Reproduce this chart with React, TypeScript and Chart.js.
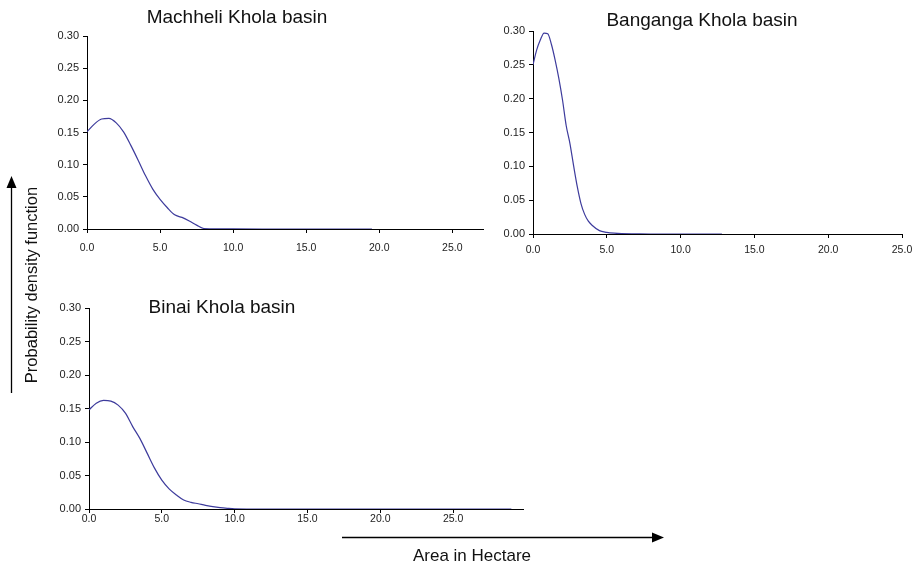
import React, { useEffect, useRef } from "react";
import { Chart, registerables } from "chart.js";

Chart.register(...registerables);

// ---------- Data ----------
const machheliX = [0, 0.5, 1.0, 1.5, 2.0, 2.5, 3.0, 3.5, 4.0, 4.5, 5.0, 5.5, 6.0, 6.5, 7.0, 7.5, 8.0, 9.0, 10.0, 12.0, 15.0, 19.5];
const machheliY = [0.151, 0.163, 0.171, 0.172, 0.165, 0.151, 0.130, 0.107, 0.083, 0.062, 0.046, 0.033, 0.022, 0.018, 0.0125, 0.006, 0.0008, 0.0004, 0.0002, 0, 0, 0];

const bangangaX = [0, 0.25, 0.5, 0.75, 1.0, 1.25, 1.5, 1.75, 2.0, 2.25, 2.5, 2.75, 3.0, 3.25, 3.5, 3.75, 4.0, 4.5, 5.0, 5.5, 6.0, 7.0, 8.0, 10.0, 12.8];
const bangangaY = [0.250, 0.272, 0.287, 0.297, 0.296, 0.280, 0.257, 0.230, 0.198, 0.160, 0.134, 0.101, 0.070, 0.045, 0.029, 0.019, 0.013, 0.005, 0.0025, 0.0012, 0.0005, 0.0002, 0, 0, 0];

const binaiX = [0, 0.5, 1.0, 1.5, 2.0, 2.5, 3.0, 3.5, 4.0, 4.5, 5.0, 5.5, 6.0, 6.5, 7.0, 7.5, 8.0, 8.5, 9.0, 9.5, 10.0, 12.0, 15.0, 20.0, 25.0, 29.0];
const binaiY = [0.148, 0.158, 0.162, 0.161, 0.155, 0.143, 0.123, 0.105, 0.083, 0.061, 0.043, 0.030, 0.021, 0.0135, 0.010, 0.0078, 0.0055, 0.0035, 0.002, 0.001, 0.0003, 0, 0, 0, 0, 0];

const titles = ["Machheli Khola basin", "Banganga Khola basin", "Binai Khola basin"];
const yAxisTitle = "Probability density function";
const xAxisTitle = "Area in Hectare";
const xMaxes = [27.1, 25, 29.8];
const yMax = 0.3;
const yStep = 0.05;
const xStep = 5;

// ---------- Styles ----------
const W = 920;
const H = 565;
const FONT = '"Liberation Sans", Arial, Helvetica, sans-serif';
const LINE = "#3d3b9c";
const TICK_COLOR = "#222";

type Box = { left: number; right: number; top: number; bottom: number };

const boxes: Box[] = [
  { left: 87, right: 483, top: 36, bottom: 229 },
  { left: 533, right: 902, top: 31, bottom: 234 },
  { left: 89, right: 523, top: 308, bottom: 509 },
];
const xLabelPads = [9, 6, 0];
const titlePos = [
  { x: 237, y: 23 },
  { x: 702, y: 26 },
  { x: 222, y: 313 },
];

function makeOverlay(idx: number, drawGlobal: boolean) {
  return {
    id: "overlay" + idx,
    afterDraw(chart: any) {
      const ctx = chart.ctx;
      ctx.save();
      ctx.fillStyle = "#111";
      ctx.textAlign = "center";
      ctx.textBaseline = "alphabetic";
      ctx.font = `19px ${FONT}`;
      ctx.fillText(titles[idx], titlePos[idx].x, titlePos[idx].y);
      if (drawGlobal) {
        // y axis title + arrow
        ctx.save();
        ctx.translate(37, 285);
        ctx.rotate(-Math.PI / 2);
        ctx.font = `16.5px ${FONT}`;
        ctx.fillText(yAxisTitle, 0, 0);
        ctx.restore();
        ctx.strokeStyle = "#000";
        ctx.lineWidth = 1.3;
        ctx.beginPath();
        ctx.moveTo(11.5, 393);
        ctx.lineTo(11.5, 186);
        ctx.stroke();
        ctx.fillStyle = "#000";
        ctx.beginPath();
        ctx.moveTo(11.5, 176);
        ctx.lineTo(6.5, 188);
        ctx.lineTo(16.5, 188);
        ctx.closePath();
        ctx.fill();
        // x axis title + arrow
        ctx.fillStyle = "#111";
        ctx.font = `17px ${FONT}`;
        ctx.fillText(xAxisTitle, 472, 561);
        ctx.beginPath();
        ctx.moveTo(342, 537.5);
        ctx.lineTo(654, 537.5);
        ctx.stroke();
        ctx.fillStyle = "#000";
        ctx.beginPath();
        ctx.moveTo(664, 537.5);
        ctx.lineTo(652, 532.5);
        ctx.lineTo(652, 542.5);
        ctx.closePath();
        ctx.fill();
      }
      ctx.restore();
    },
  };
}

function buildConfig(idx: number, xs: number[], ys: number[]) {
  const box = boxes[idx];
  const Y_W = 50;
  const X_H = 30;
  return {
    type: "line",
    data: {
      datasets: [
        {
          data: xs.map((x, i) => ({ x, y: ys[i] })),
          borderColor: LINE,
          borderWidth: 1.2,
          pointRadius: 0,
          cubicInterpolationMode: "monotone",
          fill: false,
        },
      ],
    },
    options: {
      responsive: false,
      animation: false,
      devicePixelRatio: 1,
      events: [],
      layout: {
        padding: {
          left: box.left - Y_W,
          right: W - box.right,
          top: box.top,
          bottom: H - box.bottom - X_H,
        },
      },
      plugins: {
        legend: { display: false },
        title: { display: false },
        tooltip: { enabled: false },
      },
      scales: {
        x: {
          type: "linear",
          min: 0,
          max: xMaxes[idx],
          afterFit: (s: any) => {
            s.height = X_H;
          },
          border: { display: true, color: "#000", width: 1 },
          grid: { drawOnChartArea: false, drawTicks: true, tickLength: 4, color: "#000" },
          ticks: {
            stepSize: xStep,
            includeBounds: false,
            autoSkip: false,
            maxRotation: 0,
            padding: xLabelPads[idx],
            color: TICK_COLOR,
            font: { family: FONT, size: 10.5 },
            callback: (v: any) => Number(v).toFixed(1),
          },
        },
        y: {
          type: "linear",
          min: 0,
          max: yMax,
          afterFit: (s: any) => {
            s.width = Y_W;
          },
          border: { display: true, color: "#000", width: 1 },
          grid: { drawOnChartArea: false, drawTicks: true, tickLength: 4, color: "#000" },
          ticks: {
            stepSize: yStep,
            autoSkip: false,
            padding: 4,
            color: TICK_COLOR,
            font: { family: FONT, size: 11 },
            callback: (v: any) => Number(v).toFixed(2),
          },
        },
      },
    },
    plugins: [makeOverlay(idx, idx === 2)],
  };
}

const seriesX = [machheliX, bangangaX, binaiX];
const seriesY = [machheliY, bangangaY, binaiY];

export default function App() {
  const r0 = useRef<HTMLCanvasElement>(null);
  const r1 = useRef<HTMLCanvasElement>(null);
  const r2 = useRef<HTMLCanvasElement>(null);

  useEffect(() => {
    const refs = [r0, r1, r2];
    const charts = refs.map((r, i) => new Chart(r.current as HTMLCanvasElement, buildConfig(i, seriesX[i], seriesY[i]) as any));
    return () => charts.forEach((c) => c.destroy());
  }, []);

  const cs: React.CSSProperties = { position: "absolute", left: 0, top: 0, width: W, height: H };
  return (
    <div style={{ position: "absolute", left: 0, top: 0, width: W, height: H, background: "#fff" }}>
      <canvas ref={r0} width={W} height={H} style={cs} />
      <canvas ref={r1} width={W} height={H} style={cs} />
      <canvas ref={r2} width={W} height={H} style={cs} />
    </div>
  );
}
